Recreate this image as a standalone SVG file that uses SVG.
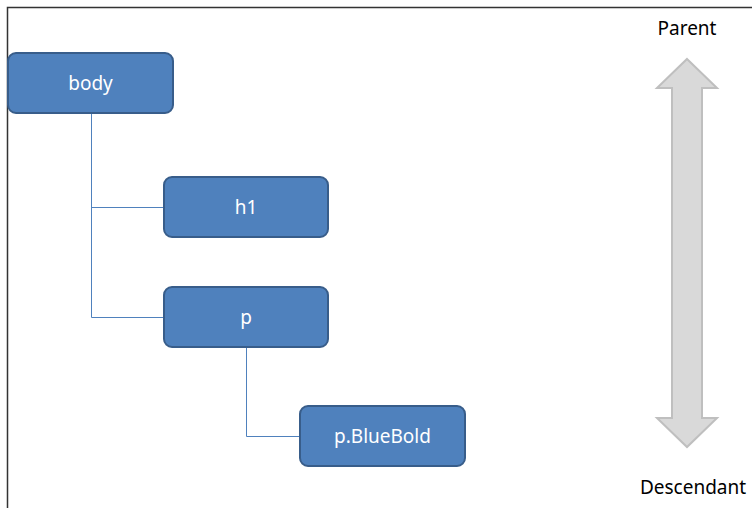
<svg xmlns="http://www.w3.org/2000/svg" width="752" height="508" viewBox="0 0 752 508">
<style>
.box{fill:#4f81bd;stroke:#385d8a;stroke-width:2}
.lbl{font-family:"Noto Sans","Open Sans",sans-serif;font-size:19px;fill:#fff;text-anchor:middle}
.side{font-family:"Noto Sans","Open Sans",sans-serif;font-size:19px;fill:#000;text-anchor:middle}
.conn{fill:none;stroke:#4f81bd;stroke-width:1}
</style>
<rect x="0" y="0" width="752" height="508" fill="#fff"/>
<path d="M7.5 508 V7.5 H752" fill="none" stroke="#333" stroke-width="1.5"/>
<g id="connectors">
<path class="conn" d="M91.5 113 V317.5 H164 M91.5 207.5 H164"/>
<path class="conn" d="M246.5 347 V436.5 H300"/>
</g>
<g id="body"><rect class="box" x="8" y="53" width="165" height="60" rx="8"/><text class="lbl" x="90.5" y="90">body</text></g>
<g id="h1"><rect class="box" x="164" y="177" width="164" height="60" rx="8"/><text class="lbl" x="246" y="214">h1</text></g>
<g id="p"><rect class="box" x="164" y="287" width="164" height="60" rx="8"/><text class="lbl" x="246" y="324">p</text></g>
<g id="pbluebold"><rect class="box" x="300" y="406" width="165" height="60" rx="8"/><text class="lbl" x="382.5" y="443">p.BlueBold</text></g>
<g id="arrow">
<path d="M687 59 L717 88 H702 V418 H717 L687 447 L657 418 H672 V88 H657 Z" fill="#d9d9d9" stroke="#bfbfbf" stroke-width="2"/>
</g>
<text class="side" x="687" y="35">Parent</text>
<text class="side" x="693" y="494">Descendant</text>
</svg>
